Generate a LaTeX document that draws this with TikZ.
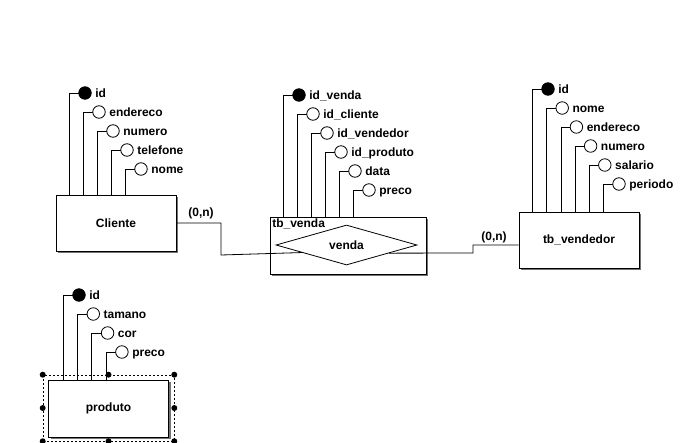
\documentclass[tikz,border=0pt]{standalone}
\usepackage{fontspec}
\setmainfont{Liberation Sans}
\usetikzlibrary{shapes.geometric,shadows,calc}
\begin{document}
\begin{tikzpicture}[x=1pt,y=-1pt,
  every node/.style={font=\fontsize{12}{14}\selectfont\bfseries},
  entity/.style={draw, line width=0.8pt, fill=white, minimum width=120pt, minimum height=56pt, inner sep=0pt,
    drop shadow={shadow xshift=2pt, shadow yshift=-2pt, fill=black!55, opacity=1}},
  attr/.style={circle, draw, line width=0.8pt, fill=white, minimum size=12.5pt, inner sep=0pt},
  key/.style={attr, fill=black},
  lbl/.style={anchor=base west, inner sep=0pt, xshift=3.5pt, yshift=-4.3pt},
  conn/.style={line width=0.8pt},
  card/.style={inner sep=0pt},
  handle/.style={circle, fill=black, minimum size=6pt, inner sep=0pt},
  sel/.style={draw, dash pattern=on 2pt off 2pt, line width=0.6pt, minimum width=131pt, minimum height=66pt, inner sep=0pt}
]
\useasboundingbox[fill=white] (0,0) rectangle (682,442);

% selection frame behind produto
\node[sel] (selp) at (108.5,408) {};

% entities
\node[entity] (cliente) at (116,223) {Cliente};
\node[entity, minimum width=156pt, minimum height=57pt] (tbvenda) at (348,245.5) {};
\node[entity] (vendedor) at (579,240) {tb\_vendedor};
\node[entity, minimum height=57pt] (produto) at (108.5,408.5) {produto};

\node[draw, diamond, line width=0.8pt, minimum width=141pt, minimum height=40pt, inner sep=0pt, aspect=3.5] (venda) at (346.5,245) {venda};
\node[anchor=north west, inner sep=0pt] (tbvl) at ([xshift=2.5pt,yshift=-2pt]tbvenda.north west) {tb\_venda};

% Cliente attributes
\foreach \i/\t/\s in {0/id/key,1/endereco/attr,2/numero/attr,3/telefone/attr,4/nome/attr} {
  \draw[conn] ({85+14*\i},{93+19*\i}) coordinate (ca\i) -| ([xshift={14+14*\i}]cliente.north west);
  \node[\s] (cA\i) at (ca\i) {};
  \node[lbl] (cAl\i) at (cA\i.east) {\t};
}

% tb_venda attributes
\foreach \i/\t/\s in {0/id\_venda/key,1/id\_cliente/attr,2/id\_vendedor/attr,3/id\_produto/attr,4/data/attr,5/preco/attr} {
  \draw[conn] ({299+14*\i},{95+19*\i}) coordinate (va\i) -| ([xshift={14+14*\i}]tbvenda.north west);
  \node[\s] (vA\i) at (va\i) {};
  \node[lbl] (vAl\i) at (vA\i.east) {\t};
}

% tb_vendedor attributes
\foreach \i/\t/\s in {0/id/key,1/nome/attr,2/endereco/attr,3/numero/attr,4/salario/attr,5/periodo/attr} {
  \draw[conn] ({548+14.2*\i},{89+19*\i}) coordinate (da\i) -| ([xshift={14+14.2*\i}]vendedor.north west);
  \node[\s] (dA\i) at (da\i) {};
  \node[lbl] (dAl\i) at (dA\i.east) {\t};
}

% produto attributes
\foreach \i/\t/\s in {0/id/key,1/tamano/attr,2/cor/attr,3/preco/attr} {
  \draw[conn] ({79+14.3*\i},{295+19*\i}) coordinate (pa\i) -| ([xshift={15+14.3*\i}]produto.north west);
  \node[\s] (pA\i) at (pa\i) {};
  \node[lbl] (pAl\i) at (pA\i.east) {\t};
}

% relationships
\coordinate (j1) at (221,255);
\draw[conn] (cliente.east) -| (j1) -- ($(venda.west)!0.37!(venda.south)$);
\node[card] (c1) at (201,213) {(0,n)};

\coordinate (j2) at (473,253);
\coordinate (j3) at (473,245);
\draw[conn] ($(venda.east)!0.4!(venda.south)$) -- (j2) -- (j3) -- (vendedor.west |- j3);
\node[card] (c2) at (494,237) {(0,n)};

% selection handles
\foreach \a in {north west,north,north east,west,east,south west,south,south east}
  \node[handle] at (selp.\a) {};
\end{tikzpicture}
\end{document}
